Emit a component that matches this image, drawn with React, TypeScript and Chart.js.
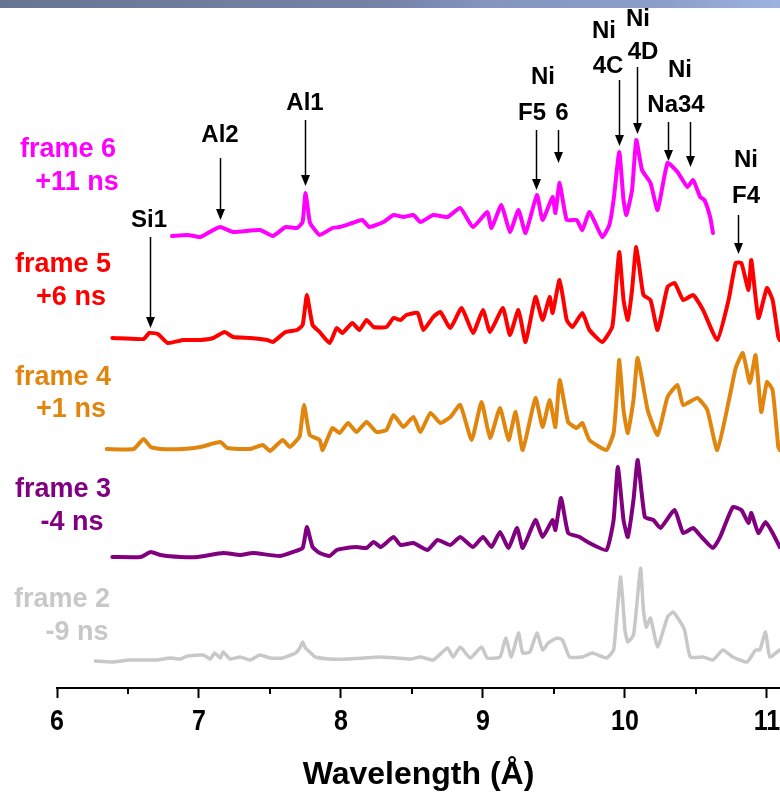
import React, { useEffect, useRef } from 'react';
import { Chart, registerables } from 'chart.js';

Chart.register(...registerables);

const FONT = "'Liberation Sans', Arial, Helvetica, sans-serif";

// ---- Data (wavelength in Å, intensity in arbitrary units above each frame's baseline) ----
const frame6Wavelength = [6.81,6.92,7.01,7.10,7.15,7.24,7.43,7.52,7.61,7.69,7.73,7.75,7.78,7.80,7.85,7.94,7.99,8.08,8.15,8.20,8.30,8.37,8.44,8.51,8.56,8.65,8.75,8.84,8.93,9.03,9.06,9.13,9.19,9.25,9.30,9.38,9.42,9.49,9.51,9.54,9.59,9.66,9.70,9.75,9.84,9.89,9.92,9.96,9.99,10.01,10.05,10.08,10.12,10.18,10.23,10.30,10.37,10.44,10.48,10.53,10.56,10.60,10.62];
const frame6Intensity = [0,1,-1,6,9,4,6,0,9,8,14,43,14,9,1,8,9,13,16,9,14,21,19,21,14,21,19,28,9,24,8,31,4,26,3,41,16,39,23,53,16,16,6,24,-1,11,36,84,36,21,46,96,66,53,26,73,64,49,56,39,36,19,3];

const frame5Wavelength = [6.39,6.61,6.65,6.71,6.78,6.89,7.01,7.10,7.18,7.24,7.36,7.48,7.52,7.61,7.69,7.73,7.76,7.80,7.85,7.92,7.97,8.01,8.08,8.13,8.18,8.23,8.32,8.37,8.42,8.46,8.54,8.58,8.65,8.70,8.77,8.85,8.93,9.00,9.05,9.14,9.19,9.25,9.30,9.37,9.42,9.47,9.49,9.54,9.59,9.63,9.70,9.75,9.84,9.91,9.93,9.96,9.99,10.02,10.05,10.08,10.13,10.18,10.23,10.30,10.35,10.41,10.48,10.55,10.65,10.73,10.78,10.82,10.87,10.89,10.94,11.00,11.04,11.08,11.09];
const frame5Intensity = [2,1,7,6,-3,0,0,2,8,3,2,0,-2,8,10,15,45,15,8,-3,12,7,17,10,20,13,13,22,20,25,27,10,23,28,12,32,7,30,8,32,5,30,-2,43,20,43,27,60,20,13,27,10,-2,13,40,88,40,20,50,93,45,40,10,53,57,40,45,30,0,40,77,77,50,80,22,52,40,3,0];

const frame4Wavelength = [6.35,6.54,6.61,6.66,6.73,6.89,7.01,7.15,7.20,7.36,7.45,7.50,7.59,7.64,7.69,7.71,7.74,7.78,7.85,7.87,7.94,7.99,8.05,8.11,8.18,8.25,8.32,8.37,8.44,8.51,8.56,8.63,8.70,8.77,8.84,8.92,8.99,9.05,9.12,9.18,9.23,9.28,9.37,9.42,9.47,9.51,9.54,9.60,9.66,9.70,9.75,9.87,9.92,9.94,9.96,9.99,10.02,10.06,10.09,10.16,10.23,10.30,10.37,10.41,10.51,10.58,10.65,10.74,10.78,10.83,10.88,10.92,10.96,11.00,11.04,11.08,11.09];
const frame4Intensity = [0,0,10,2,0,0,2,7,1,0,4,-2,9,2,9,13,44,14,9,-1,21,16,26,17,27,17,19,34,22,32,17,36,26,32,44,9,47,11,41,9,37,-1,51,22,49,22,69,27,21,26,9,-1,16,49,89,39,16,49,91,39,14,52,64,44,51,39,-1,54,81,96,66,94,37,67,59,2,-1];

const frame3Wavelength = [6.39,6.59,6.66,6.73,6.87,6.99,7.17,7.29,7.38,7.57,7.66,7.73,7.76,7.80,7.85,7.92,7.97,8.04,8.11,8.18,8.23,8.28,8.37,8.42,8.51,8.61,8.68,8.77,8.84,8.93,9.00,9.06,9.12,9.18,9.24,9.28,9.37,9.42,9.49,9.51,9.55,9.60,9.68,9.75,9.87,9.92,9.95,9.99,10.02,10.06,10.09,10.14,10.20,10.25,10.35,10.41,10.48,10.54,10.62,10.67,10.76,10.82,10.87,10.89,10.94,10.99,11.04,11.09];
const frame3Intensity = [0,0,5,2,0,0,4,2,4,1,5,9,30,10,4,1,7,9,10,9,15,10,20,12,14,7,17,12,20,10,20,10,25,9,29,9,37,20,37,27,59,24,20,14,7,37,90,37,20,57,97,40,37,29,47,24,29,20,9,20,50,47,34,44,24,35,24,10];

const frame2Wavelength = [6.27,6.39,6.51,6.70,6.80,6.87,6.92,7.03,7.08,7.11,7.15,7.17,7.22,7.29,7.36,7.43,7.50,7.59,7.68,7.71,7.73,7.75,7.78,7.82,7.92,8.04,8.16,8.27,8.39,8.49,8.56,8.65,8.75,8.79,8.84,8.91,8.99,9.03,9.12,9.16,9.20,9.25,9.28,9.33,9.38,9.42,9.46,9.52,9.56,9.61,9.70,9.77,9.87,9.92,9.94,9.97,10.00,10.02,10.06,10.08,10.11,10.13,10.15,10.18,10.23,10.30,10.34,10.39,10.42,10.46,10.55,10.62,10.69,10.76,10.86,10.92,10.95,10.99,11.02,11.09];
const frame2Intensity = [-1,-2,0,0,2,1,4,5,1,7,2,8,1,3,0,5,2,2,7,12,18,12,8,3,1,1,2,3,2,1,3,0,12,3,13,2,13,2,3,22,3,27,7,8,27,10,17,22,20,3,3,7,2,10,40,83,30,18,25,50,92,50,33,42,13,43,48,38,30,3,3,0,10,3,-2,10,10,28,3,10];

// vertical offsets of each frame's baseline (same arbitrary units)
const frameOffsets = [452, 348, 239, 131, 28];
const frameNames = ['frame 6', 'frame 5', 'frame 4', 'frame 3', 'frame 2'];
const frameDelays = ['+11 ns', '+6 ns', '+1 ns', '-4 ns', '-9 ns'];
const frameColors = ['#ff00ff', '#ff0000', '#e0860f', '#800080', '#c8c8c8'];
const frameWavelengths = [frame6Wavelength, frame5Wavelength, frame4Wavelength, frame3Wavelength, frame2Wavelength];
const frameIntensities = [frame6Intensity, frame5Intensity, frame4Intensity, frame3Intensity, frame2Intensity];

const xTickLabels = [6, 7, 8, 9, 10, 11];
const minorTicks = [6.5, 7.5, 8.5, 9.5, 10.5];

// ---- Layout of text / annotation overlay (pixels) ----
const frameLabelLayout = [
  { x: 68, y: 150, x2: 77, y2: 183 },
  { x: 63, y: 265, x2: 71, y2: 298 },
  { x: 63, y: 378, x2: 71, y2: 410 },
  { x: 63, y: 490, x2: 72, y2: 523 },
  { x: 62, y: 600, x2: 77, y2: 633 },
];

const annotations = [
  { texts: [{ t: 'Si1', x: 149, y: 220 }], arrows: [{ wl: 6.655, y0: 237, y1: 328 }] },
  { texts: [{ t: 'Al2', x: 220, y: 135 }], arrows: [{ wl: 7.148, y0: 158, y1: 220 }] },
  { texts: [{ t: 'Al1', x: 305, y: 103 }], arrows: [{ wl: 7.746, y0: 120, y1: 186 }] },
  { texts: [{ t: 'Ni', x: 543, y: 77 }, { t: 'F5', x: 532, y: 113 }, { t: '6', x: 562, y: 113 }],
    arrows: [{ wl: 9.373, y0: 130, y1: 190 }, { wl: 9.528, y0: 130, y1: 163 }] },
  { texts: [{ t: 'Ni', x: 604, y: 31 }, { t: '4C', x: 608, y: 66 }], arrows: [{ wl: 9.958, y0: 80, y1: 146 }] },
  { texts: [{ t: 'Ni', x: 638, y: 19 }, { t: '4D', x: 643, y: 52 }], arrows: [{ wl: 10.085, y0: 67, y1: 134 }] },
  { texts: [{ t: 'Ni', x: 680, y: 70 }, { t: 'Na34', x: 676, y: 105 }],
    arrows: [{ wl: 10.303, y0: 122, y1: 161 }, { wl: 10.458, y0: 122, y1: 167 }] },
  { texts: [{ t: 'Ni', x: 746, y: 160 }, { t: 'F4', x: 746, y: 196 }], arrows: [{ wl: 10.796, y0: 215, y1: 254 }] },
];

const overlayPlugin = {
  id: 'overlay',
  afterDraw(chart: any) {
    const { ctx, chartArea, scales } = chart;
    const xs = scales.x;
    ctx.save();
    // minor ticks
    ctx.strokeStyle = '#000';
    ctx.lineWidth = 2;
    for (const v of minorTicks) {
      const px = Math.round(xs.getPixelForValue(v));
      ctx.beginPath();
      ctx.moveTo(px, chartArea.bottom);
      ctx.lineTo(px, chartArea.bottom + 6);
      ctx.stroke();
    }
    ctx.textAlign = 'center';
    ctx.textBaseline = 'middle';
    // tick labels (slightly tall font as in the original)
    ctx.fillStyle = '#000';
    ctx.font = `bold 25px ${FONT}`;
    for (const v of xTickLabels) {
      const px = xs.getPixelForValue(v);
      ctx.save();
      ctx.translate(px, chartArea.bottom + 34);
      ctx.scale(1, 1.2);
      ctx.fillText(String(v), 0, 0);
      ctx.restore();
    }
    // frame labels
    ctx.font = `bold 27px ${FONT}`;
    frameNames.forEach((name, i) => {
      const l = frameLabelLayout[i];
      ctx.fillStyle = frameColors[i];
      ctx.fillText(name, l.x, l.y);
      ctx.fillText(frameDelays[i], l.x2, l.y2);
    });
    // annotations
    ctx.fillStyle = '#000';
    ctx.font = `bold 24px ${FONT}`;
    for (const a of annotations) {
      for (const t of a.texts) ctx.fillText(t.t, t.x, t.y);
      for (const ar of a.arrows) {
        const px = Math.round(xs.getPixelForValue(ar.wl)) + 0.5;
        ctx.lineWidth = 1.5;
        ctx.beginPath();
        ctx.moveTo(px, ar.y0);
        ctx.lineTo(px, ar.y1 - 8);
        ctx.stroke();
        ctx.beginPath();
        ctx.moveTo(px - 4.5, ar.y1 - 11);
        ctx.lineTo(px + 4.5, ar.y1 - 11);
        ctx.lineTo(px, ar.y1);
        ctx.closePath();
        ctx.fill();
      }
    }
    ctx.restore();
  },
};

export default function App() {
  const ref = useRef<HTMLCanvasElement>(null);
  useEffect(() => {
    const datasets = frameNames.map((name, i) => ({
      label: name,
      data: frameWavelengths[i].map((x, j) => ({ x, y: frameOffsets[i] + frameIntensities[i][j] })),
      showLine: true,
      borderColor: frameColors[i],
      backgroundColor: frameColors[i],
      borderWidth: i === 4 ? 3.5 : 4,
      borderJoinStyle: 'round' as const,
      borderCapStyle: 'round' as const,
      pointRadius: 0,
      fill: false,
      tension: 0.15,
    }));
    const chart = new Chart(ref.current as HTMLCanvasElement, {
      type: 'scatter',
      data: { datasets },
      options: {
        responsive: false,
        animation: false,
        layout: { padding: { left: 57, right: 0, top: 0, bottom: 0 } },
        plugins: { legend: { display: false }, tooltip: { enabled: false } },
        scales: {
          x: {
            type: 'linear',
            position: 'bottom',
            min: 6,
            max: 11.092,
            afterFit: (scale: any) => {
              scale.height = 106;
              scale.paddingLeft = 0;
              scale.paddingRight = 0;
            },
            border: { display: true, color: '#000', width: 2 },
            grid: {
              drawOnChartArea: false,
              drawTicks: true,
              tickLength: 10,
              tickWidth: 2,
              tickColor: (c: any) => (xTickLabels.includes(c.tick?.value) ? '#000' : 'rgba(0,0,0,0)'),
            },
            ticks: {
              display: false,
              stepSize: 0.5,
              includeBounds: false,
              autoSkip: false,
              maxRotation: 0,
            },
            title: {
              display: true,
              text: 'Wavelength (Å)',
              color: '#000',
              font: { family: FONT, size: 32, weight: 'bold' },
              padding: { top: 0, bottom: 0 },
            },
          },
          y: { display: false, min: 0, max: 688 },
        },
      },
      plugins: [overlayPlugin],
    } as any);
    return () => chart.destroy();
  }, []);
  return (
    <div style={{ position: 'absolute', left: 0, top: 0, width: 780, height: 794, background: '#fff', overflow: 'hidden' }}>
      <canvas ref={ref} width={780} height={794} style={{ display: 'block', width: 780, height: 794 }} />
      <div
        style={{
          position: 'absolute', left: 0, top: 0, width: 780, height: 8,
          background: 'linear-gradient(90deg, #687592 0%, #7583a8 50%, #8494bf 62%, #8b9fca 85%, #9cb3df 100%)',
        }}
      />
    </div>
  );
}
